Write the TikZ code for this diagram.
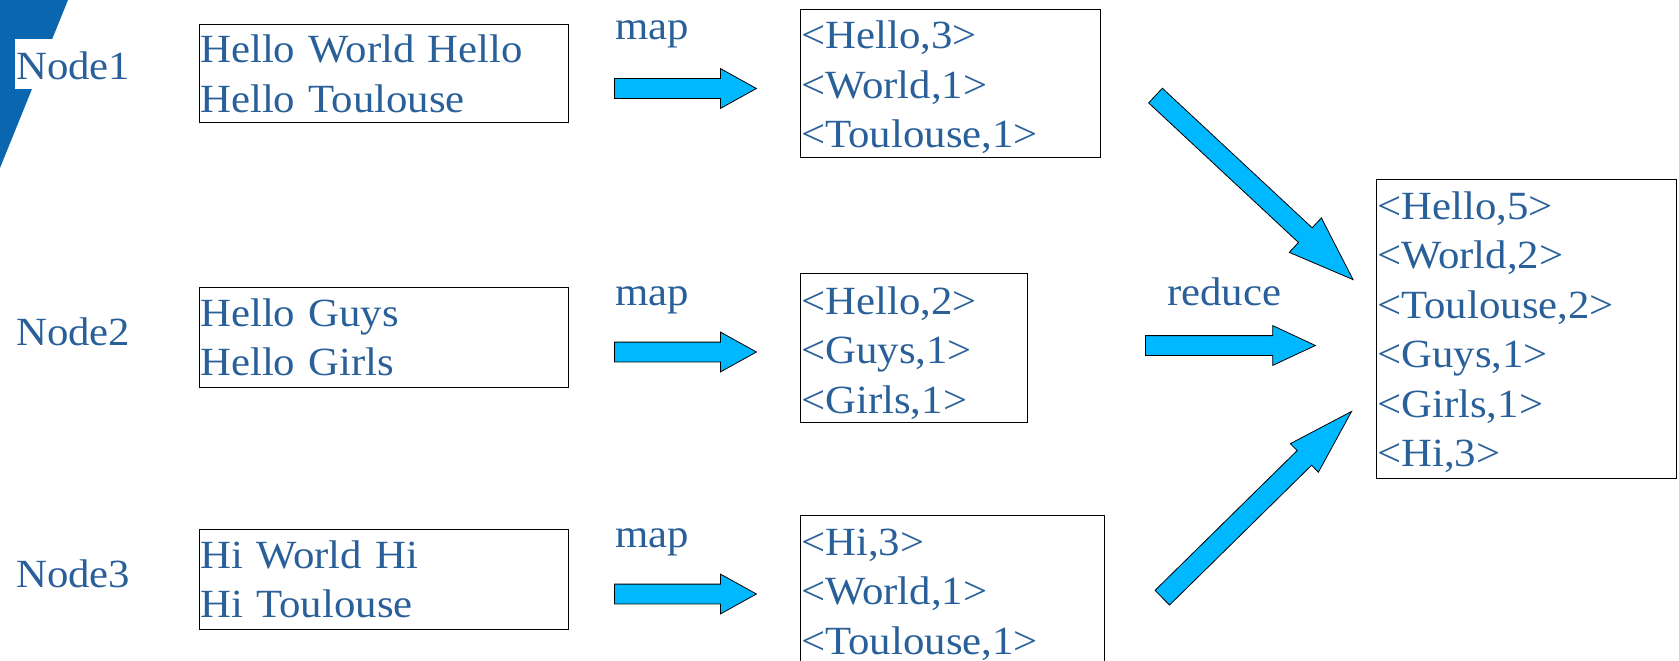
\documentclass[tikz,border=0pt]{standalone}
\usepackage{fontspec}
\setmainfont{Liberation Serif}[FakeStretch=1.07]
\usetikzlibrary{shapes.arrows}

\definecolor{textblue}{RGB}{42,96,153}
\definecolor{arrowblue}{RGB}{0,184,255}
\definecolor{cornerblue}{RGB}{10,102,174}

\begin{document}
\begin{tikzpicture}[x=1pt, y=-1pt,
        kvbox/.style={draw, line width=1.2pt, anchor=north west, inner sep=0pt},
        kvtext/.style={anchor=base west, inner sep=0pt, align=left, text=textblue,
            font=\fontsize{40}{49.5}\selectfont},
        hostname/.style={anchor=base west, fill=white, inner xsep=1pt, inner ysep=0pt,
            text height=41pt, text depth=9pt, text=textblue, font=\fontsize{40}{49.5}\selectfont},
        steplabel/.style={anchor=base west, inner sep=0pt, text=textblue,
            font=\fontsize{40}{49.5}\selectfont},
        flow/.style={single arrow, draw, fill=arrowblue, line width=0.8pt,
            anchor=tail, inner xsep=0pt, inner ysep=9.5pt,
            single arrow head extend=10pt, single arrow head indent=0pt}]
    \useasboundingbox (0,0) rectangle (1679,661);
    \clip (0,0) rectangle (1679,661);

    % corner decoration
    \fill[cornerblue] (0,0) -- (68,0) -- (0,168) -- cycle;

    % hosts
    \node[hostname] (host1) at (15,80) {Node1};
    \node[hostname] (host2) at (15,345) {Node2};
    \node[hostname] (host3) at (15,587) {Node3};

    % input splits
    \node[kvbox, minimum width=369, minimum height=98] (in1) at (199,24) {};
    \node[kvbox, minimum width=369, minimum height=100] (in2) at (199,287) {};
    \node[kvbox, minimum width=369, minimum height=100] (in3) at (199,529) {};
    \node[kvtext, text width=360] at (200,63) {Hello World Hello\\Hello Toulouse};
    \node[kvtext, text width=360] at (200,326) {Hello Guys\\Hello Girls};
    \node[kvtext, text width=360] at (200,568) {Hi World Hi\\Hi Toulouse};

    % map output
    \node[kvbox, minimum width=300, minimum height=148] (pairs1) at (800,9) {};
    \node[kvbox, minimum width=227, minimum height=149] (pairs2) at (800,273) {};
    \node[kvbox, minimum width=304, minimum height=150] (pairs3) at (800,515) {};
    \node[kvtext, text width=295] at (801,49) {<Hello,3>\\<World,1>\\<Toulouse,1>};
    \node[kvtext, text width=222] at (801,314) {<Hello,2>\\<Guys,1>\\<Girls,1>};
    \node[kvtext, text width=300] at (801,555) {<Hi,3>\\<World,1>\\<Toulouse,1>};

    % reduce output
    \node[kvbox, minimum width=300, minimum height=299] (result) at (1376,179) {};
    \node[kvtext, text width=295] at (1377,219)
        {<Hello,5>\\<World,2>\\<Toulouse,2>\\<Guys,1>\\<Girls,1>\\<Hi,3>};

    % steps
    \node[steplabel] (maplbl1) at (615,40) {map};
    \node[steplabel] (maplbl2) at (615,305) {map};
    \node[steplabel] (maplbl3) at (615,547) {map};
    \node[steplabel] (reducelbl) at (1167,305) {reduce};

    \node[flow, minimum height=142, single arrow tip angle=58] (map1) at (614,88.5) {};
    \node[flow, minimum height=142, single arrow tip angle=58] (map2) at (614,352) {};
    \node[flow, minimum height=142, single arrow tip angle=58] (map3) at (614,594) {};
    \node[flow, minimum height=170, single arrow tip angle=50] (reduce) at (1145,345.5) {};
    \node[flow, rotate=-42.97, minimum height=270, inner ysep=9.65pt,
        single arrow head extend=13.5, single arrow tip angle=39.7] (join1) at (1155.2,95.3) {};
    \node[flow, rotate=44.54, minimum height=265.6, inner ysep=9.9pt,
        single arrow head extend=9.7, single arrow tip angle=33.6] (join3) at (1162,598) {};
\end{tikzpicture}
\end{document}
